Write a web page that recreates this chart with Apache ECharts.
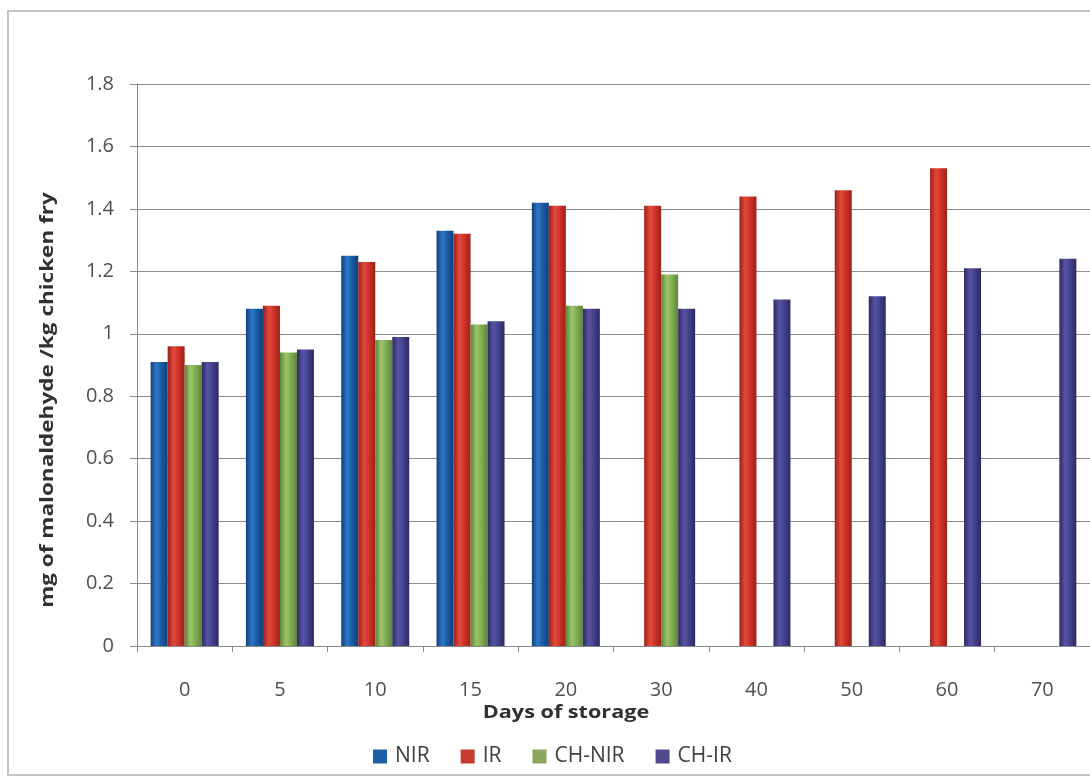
<!DOCTYPE html>
<html>
<head>
<meta charset="utf-8">
<script src="https://cdn.jsdelivr.net/npm/echarts@6/dist/echarts.min.js"></script>
<style>
html,body{margin:0;padding:0;background:#fff;}
#chart{width:1090px;height:778px;}
</style>
</head>
<body>
<div id="chart"></div>
<script>
const categories = ['0','5','10','15','20','30','40','50','60','70'];
const nirValues   = [0.91, 1.08, 1.25, 1.33, 1.42, null, null, null, null, null];
const irValues    = [0.96, 1.09, 1.23, 1.32, 1.41, 1.41, 1.44, 1.46, 1.53, null];
const chNirValues = [0.90, 0.94, 0.98, 1.03, 1.09, 1.19, null, null, null, null];
const chIrValues  = [0.91, 0.95, 0.99, 1.04, 1.08, 1.08, 1.11, 1.12, 1.21, 1.24];
const yTicks = {min: 0, max: 1.8, interval: 0.2};

function cyl(edge, mid, light){
  return new echarts.graphic.LinearGradient(0,0,1,0,[
    {offset:0, color: edge},
    {offset:0.35, color: light},
    {offset:0.6, color: mid},
    {offset:1, color: edge}
  ]);
}
const styles = {
  'NIR':    {edge:'#0e3f7e', mid:'#1d5ea9', light:'#2f78c6', icon:'#1f5fa6'},
  'IR':     {edge:'#9e1f17', mid:'#d1352a', light:'#e24a3c', icon:'#c8392f'},
  'CH-NIR': {edge:'#5b8537', mid:'#86b055', light:'#9cc46a', icon:'#8aa65c'},
  'CH-IR':  {edge:'#2c2963', mid:'#47438f', light:'#5854a4', icon:'#4e4a8c'}
};
function mk(name, data){
  const s = styles[name];
  return {
    name: name, type:'bar', data: data,
    barWidth: 17, barGap: '0%',
    itemStyle: {color: cyl(s.edge, s.mid, s.light)},
    emphasis: {disabled: true}
  };
}

const chart = echarts.init(document.getElementById('chart'));
chart.setOption({
  animation: false,
  backgroundColor: '#ffffff',
  grid: {left: 137, right: -8, top: 84, bottom: 132, containLabel: false},
  legend: {
    left: 368, top: 741,
    itemWidth: 14, itemHeight: 14, itemGap: 31,
    icon: 'rect',
    textStyle: {fontFamily: 'Open Sans', fontSize: 21, color: '#404040', padding: [0,0,0,3]},
    data: [
      {name:'NIR', itemStyle:{color: styles['NIR'].icon}},
      {name:'IR', itemStyle:{color: styles['IR'].icon}},
      {name:'CH-NIR', itemStyle:{color: styles['CH-NIR'].icon}},
      {name:'CH-IR', itemStyle:{color: styles['CH-IR'].icon}}
    ]
  },
  xAxis: {
    type: 'category', data: categories,
    axisLine: {lineStyle: {color: '#8a8a8a', width: 1}},
    axisTick: {show: true, length: 6, lineStyle: {color: '#8a8a8a'}},
    axisLabel: {margin: 34, fontFamily: 'Open Sans', fontSize: 20, color: '#505050'},
    splitLine: {show: false}
  },
  yAxis: {
    type: 'value', min: yTicks.min, max: yTicks.max, interval: yTicks.interval,
    axisLine: {show: true, lineStyle: {color: '#8a8a8a', width: 1}},
    axisTick: {show: true, length: 7, lineStyle: {color: '#8a8a8a'}},
    axisLabel: {margin: 23, fontFamily: 'Open Sans', fontSize: 20, color: '#505050',
      formatter: function(v){ return String(Math.round(v*10)/10); }},
    splitLine: {show: true, lineStyle: {color: '#8c8c8c', width: 1}}
  },
  graphic: [
    {type:'rect', z:-1, silent:true, shape:{x:8, y:11, width:1100, height:764},
      style:{fill:'none', stroke:'#c4c4c4', lineWidth:2}},
    {type:'text', x:48, y:400, rotation: Math.PI/2, scaleX: 1.25, silent:true,
      style:{text:'mg of malonaldehyde /kg chicken fry', fontFamily:'Open Sans', fontWeight:'bold',
        fontSize:18, fill:'#303030', align:'center', verticalAlign:'middle'}},
    {type:'text', x:566, y:713, scaleX: 1.2, silent:true,
      style:{text:'Days of storage', fontFamily:'Open Sans', fontWeight:'bold',
        fontSize:18, fill:'#303030', align:'center', verticalAlign:'middle'}}
  ],
  series: [
    mk('NIR', nirValues),
    mk('IR', irValues),
    mk('CH-NIR', chNirValues),
    mk('CH-IR', chIrValues)
  ]
});
</script>
</body>
</html>
